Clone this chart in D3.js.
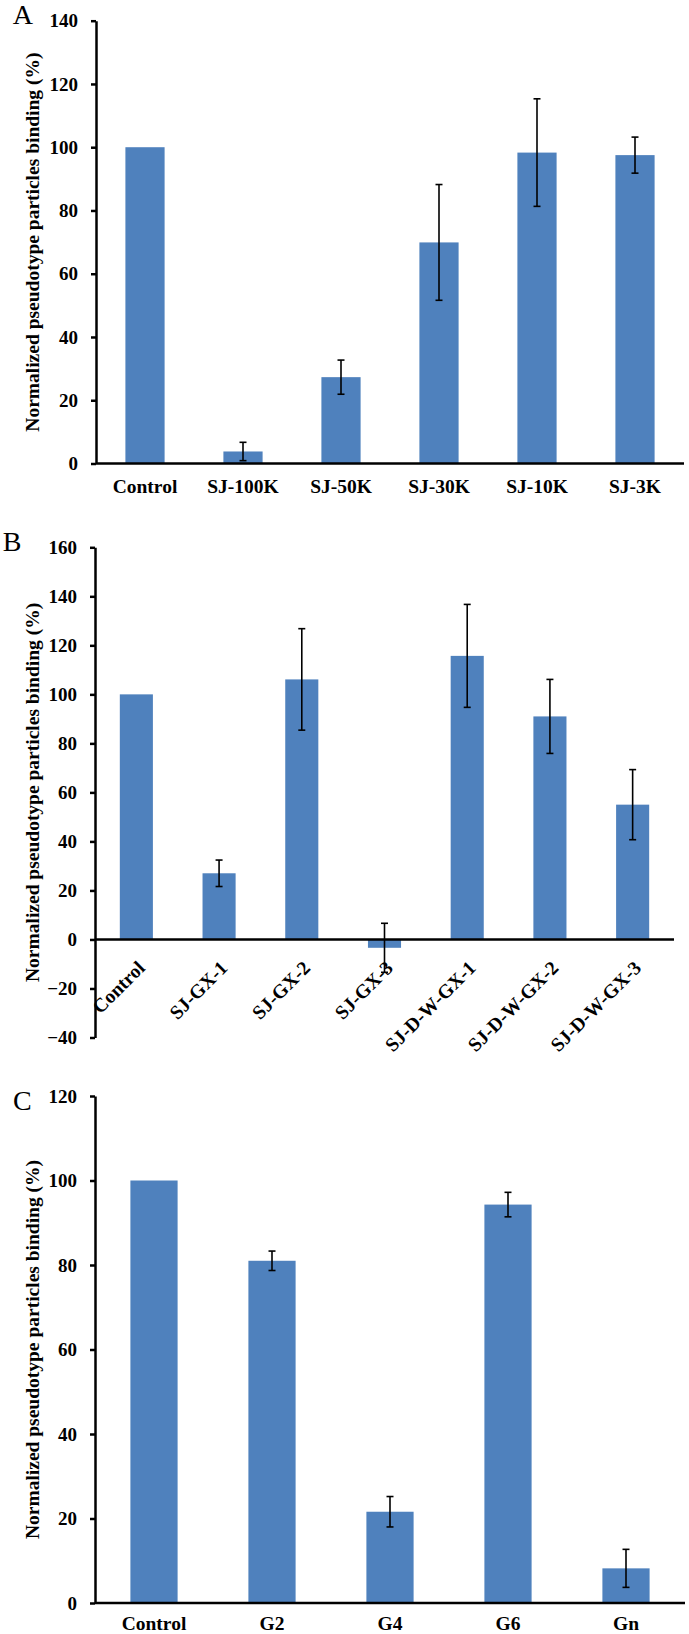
<!DOCTYPE html>
<html>
<head>
<meta charset="utf-8">
<script src="https://cdn.jsdelivr.net/npm/d3@7"></script>
<style>
  html, body { margin: 0; padding: 0; background: #fff; }
  svg { display: block; }
</style>
</head>
<body>
<svg id="chart" width="689" height="1634"></svg>
<script>
// ---------- DATA ----------
const catsA = ["Control", "SJ-100K", "SJ-50K", "SJ-30K", "SJ-10K", "SJ-3K"];
const valsA = [100, 3.8, 27.3, 69.9, 98.3, 97.5];
const errA  = [null, 2.9, 5.4, 18.3, 17.0, 5.7];
const ticksA = [0, 20, 40, 60, 80, 100, 120, 140];

const catsB = ["Control", "SJ-GX-1", "SJ-GX-2", "SJ-GX-3", "SJ-D-W-GX-1", "SJ-D-W-GX-2", "SJ-D-W-GX-3"];
const valsB = [100, 27.0, 106.1, -3.4, 115.7, 91.0, 55.0];
const errB  = [null, 5.4, 20.7, 10.0, 21.0, 15.1, 14.3];
const ticksB = [-40, -20, 0, 20, 40, 60, 80, 100, 120, 140, 160];

const catsC = ["Control", "G2", "G4", "G6", "Gn"];
const valsC = [100, 81.0, 21.6, 94.3, 8.2];
const errC  = [null, 2.3, 3.6, 2.9, 4.5];
const ticksC = [0, 20, 40, 60, 80, 100, 120];

const yTitle = "Normalized pseudotype particles binding (%)";
const panelLetters = ["A", "B", "C"];

// ---------- STYLE / LAYOUT ----------
const SERIF = '"Liberation Serif", "Times New Roman", serif';
const BAR = "#4f81bd";
const svg = d3.select("#chart");

const panels = [
  { letter: panelLetters[0], cats: catsA, vals: valsA, errs: errA, ticks: ticksA,
    xr: [96, 684], yr: [463.5, 20.7], dom: [0, 140], lx: 12.7, ly: 24, rotate: false, pad: 15.7 },
  { letter: panelLetters[1], cats: catsB, vals: valsB, errs: errB, ticks: ticksB,
    xr: [95, 674], yr: [1037.5, 547.3], dom: [-40, 160], lx: 2.7, ly: 550.7, rotate: true, pad: 15.7 },
  { letter: panelLetters[2], cats: catsC, vals: valsC, errs: errC, ticks: ticksC,
    xr: [95, 685], yr: [1603, 1096], dom: [0, 120], lx: 13, ly: 1110, rotate: false, pad: 13.5 }
];

panels.forEach(p => {
  const g = svg.append("g");
  const x = d3.scaleBand().domain(p.cats).range(p.xr).paddingInner(0.6).paddingOuter(0.3);
  const y = d3.scaleLinear().domain(p.dom).range(p.yr);
  const data = p.cats.map((c, i) => ({ c, v: p.vals[i], e: p.errs[i] }));

  // bars
  g.selectAll("rect.bar").data(data).enter().append("rect")
    .attr("class", "bar")
    .attr("x", d => x(d.c))
    .attr("width", x.bandwidth())
    .attr("y", d => Math.min(y(d.v), y(0)))
    .attr("height", d => Math.abs(y(d.v) - y(0)))
    .attr("fill", BAR);

  // y axis
  const ya = g.append("g")
    .attr("transform", `translate(${p.xr[0]},0)`)
    .call(d3.axisLeft(y).tickValues(p.ticks).tickSize(5).tickSizeOuter(0).tickPadding(13).tickFormat(d3.format("d")));
  ya.select(".domain").attr("stroke", "#000").attr("stroke-width", 2.5);
  ya.selectAll(".tick line").attr("stroke", "#000").attr("stroke-width", 2.5);
  ya.selectAll(".tick text")
    .attr("font-family", SERIF).attr("font-weight", "bold").attr("font-size", 19).attr("fill", "#000");

  // x axis
  const xa = g.append("g")
    .attr("transform", `translate(0,${y(0)})`)
    .call(d3.axisBottom(x).tickSize(0).tickSizeOuter(0).tickPadding(p.pad));
  xa.select(".domain").attr("stroke", "#000").attr("stroke-width", 2.5)
    .attr("d", `M${p.xr[0]},0H${p.xr[1]}`);
  const xt = xa.selectAll(".tick text")
    .attr("font-family", SERIF).attr("font-weight", "bold").attr("font-size", 19.5).attr("fill", "#000");
  if (p.rotate) {
    xt.attr("text-anchor", "end")
      .attr("x", 0).attr("y", 20).attr("dy", "0.7em")
      .attr("transform", "rotate(-45, 0, 20)");
  }

  // error bars
  const eg = g.selectAll("g.err").data(data.filter(d => d.e != null)).enter().append("g")
    .attr("class", "err").attr("stroke", "#000").attr("stroke-width", 1.6);
  const cx = d => x(d.c) + x.bandwidth() / 2;
  eg.append("line").attr("x1", cx).attr("x2", cx)
    .attr("y1", d => y(d.v + d.e)).attr("y2", d => y(d.v - d.e));
  eg.append("line").attr("x1", d => cx(d) - 3.5).attr("x2", d => cx(d) + 3.5)
    .attr("y1", d => y(d.v + d.e)).attr("y2", d => y(d.v + d.e));
  eg.append("line").attr("x1", d => cx(d) - 3.5).attr("x2", d => cx(d) + 3.5)
    .attr("y1", d => y(d.v - d.e)).attr("y2", d => y(d.v - d.e));

  // y title
  const cy = (p.yr[0] + p.yr[1]) / 2;
  g.append("text")
    .attr("transform", `translate(38.5,${cy}) rotate(-90)`)
    .attr("text-anchor", "middle")
    .attr("font-family", SERIF).attr("font-weight", "bold").attr("font-size", 19.5)
    .attr("fill", "#000")
    .text(yTitle);

  // panel letter
  g.append("text")
    .attr("x", p.lx).attr("y", p.ly)
    .attr("font-family", SERIF).attr("font-size", 28).attr("fill", "#000")
    .text(p.letter);
});
</script>
</body>
</html>
